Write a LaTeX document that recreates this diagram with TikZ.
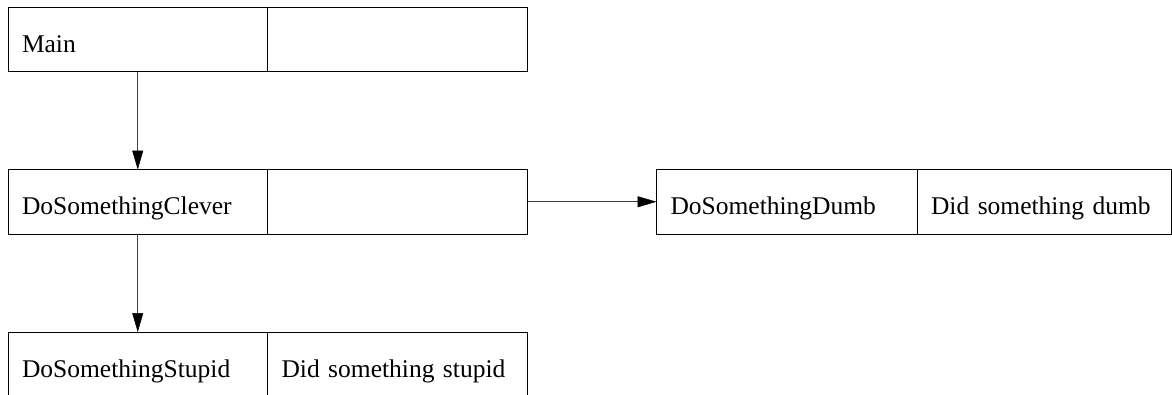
\documentclass[tikz,border=0pt]{standalone}
\usepackage{fontspec}
\setmainfont{Liberation Serif}
\usetikzlibrary{arrows.meta}
\tikzset{
  cell/.style={draw=black, line width=1pt, rectangle, anchor=north west,
    minimum height=64.5pt, inner xsep=14pt, inner ysep=0pt, outer sep=0pt,
    align=left, text height=28pt, text depth=2.5pt,
    font=\fontsize{25.5pt}{30pt}\selectfont},
  conn/.style={draw=black!75, line width=1.3pt,
    -{Triangle[length=19pt,width=11pt,color=black,fill=black,line width=0.5pt]}}
}
\begin{document}
\begin{tikzpicture}[x=1pt,y=-1pt]
\useasboundingbox (0,0) rectangle (1172,394);
% Main
\node[cell, minimum width=259.5pt, text width=231.5pt] (mainL) at (8,7) {Main};
\node[cell, minimum width=260pt, text width=232pt] (mainR) at (267.5,7) {};
% DoSomethingClever
\node[cell, minimum width=259.5pt, text width=231.5pt] (cleverL) at (8,169.5) {DoSomethingClever};
\node[cell, minimum width=260pt, text width=232pt] (cleverR) at (267.5,169.5) {};
% DoSomethingStupid
\node[cell, minimum width=259.5pt, text width=231.5pt] (stupidL) at (8,332) {DoSomethingStupid};
\node[cell, minimum width=260pt, text width=232pt] (stupidR) at (267.5,332) {Did something stupid};
% DoSomethingDumb
\node[cell, minimum width=260.5pt, text width=232.5pt] (dumbL) at (656.5,169.5) {DoSomethingDumb};
\node[cell, minimum width=254.5pt, text width=226.5pt] (dumbR) at (917,169.5) {Did something dumb};
% connectors
\draw[conn] (mainL.south) -- (cleverL.north);
\draw[conn] (cleverL.south) -- (stupidL.north);
\draw[conn] (cleverR.east) -- (dumbL.west);
\end{tikzpicture}
\end{document}
